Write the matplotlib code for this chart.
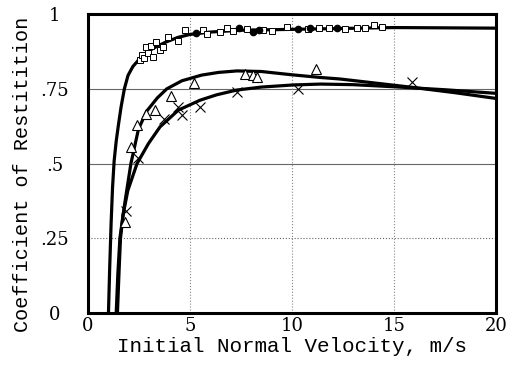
"""Coefficient of restitution vs. initial normal velocity, three fitted curves."""

import matplotlib

matplotlib.use("Agg")

import matplotlib.pyplot as plt

# fitted curves (x = velocity m/s, y = COR)
fit_sq_x = [1.0, 1.06, 1.13, 1.2, 1.28, 1.38, 1.49, 1.62, 1.78, 1.96, 2.2, 2.47, 2.8, 3.2,
            3.8, 4.4, 5.0, 6.0, 7.5, 10.0, 12.5, 15.0, 17.5, 20.0]
fit_sq_y = [0.0, 0.15, 0.3, 0.42, 0.51, 0.575, 0.63, 0.69, 0.75, 0.795, 0.825, 0.846, 0.868,
            0.886, 0.906, 0.922, 0.932, 0.940, 0.946, 0.949, 0.952, 0.955, 0.954, 0.953]

fit_tri_x = [1.44, 1.52, 1.59, 1.72, 1.85, 2.1, 2.47, 2.87, 3.4, 3.86, 4.6, 5.57, 6.4, 7.3,
             8.5, 10.0, 11.4, 12.35, 14.0, 15.9, 18.0, 20.0]
fit_tri_y = [0.0, 0.14, 0.25, 0.33, 0.39, 0.5, 0.615, 0.675, 0.72, 0.75, 0.777, 0.796,
             0.805, 0.81, 0.808, 0.797, 0.788, 0.783, 0.77, 0.755, 0.737, 0.718]

fit_x_x = [1.38, 1.46, 1.56, 1.72, 1.95, 2.4, 2.96, 3.53, 4.43, 5.49, 6.3, 7.29, 8.5,
           10.05, 11.4, 13.0, 15.0, 17.5, 20.0]
fit_x_y = [0.0, 0.13, 0.25, 0.33, 0.41, 0.5, 0.567, 0.623, 0.679, 0.712, 0.73, 0.746,
           0.756, 0.763, 0.766, 0.764, 0.757, 0.747, 0.735]

# measured points
sq_x = [2.55, 2.65, 2.75, 2.86, 2.94, 3.1, 3.19, 3.35, 3.51, 3.68, 3.92, 4.41, 4.74, 5.65,
        5.85, 6.47, 6.8, 7.1, 7.8, 8.6, 9.0, 9.74, 10.8, 11.3, 11.8, 12.6, 13.2, 13.6, 14.0,
        14.4]
sq_y = [0.845, 0.862, 0.852, 0.889, 0.869, 0.894, 0.857, 0.908, 0.880, 0.889, 0.924, 0.909,
        0.946, 0.946, 0.933, 0.939, 0.953, 0.945, 0.950, 0.948, 0.945, 0.958, 0.950, 0.955,
        0.952, 0.949, 0.955, 0.952, 0.963, 0.958]

dot_x = [5.3, 7.4, 8.1, 8.4, 10.3, 10.9, 12.2]
dot_y = [0.938, 0.955, 0.940, 0.947, 0.950, 0.952, 0.953]

tri_x = [1.81, 2.11, 2.39, 2.85, 3.26, 4.07, 5.2, 7.7, 8.1, 8.27, 11.2]
tri_y = [0.305, 0.554, 0.629, 0.665, 0.679, 0.727, 0.768, 0.799, 0.796, 0.788, 0.818]

cross_x = [1.86, 2.45, 3.72, 4.43, 4.63, 5.49, 7.29, 10.3, 15.87]
cross_y = [0.34, 0.52, 0.65, 0.69, 0.662, 0.69, 0.74, 0.751, 0.774]

x_ticks = [0, 5, 10, 15, 20]
x_tick_labels = ["0", "5", "10", "15", "20"]
y_ticks = [0, 0.25, 0.5, 0.75, 1]
y_tick_labels = ["0", ".25", ".5", ".75", "1"]

LABEL_FONT = "Liberation Mono"
TICK_FONT = "DejaVu Serif"

fig = plt.figure(figsize=(5.18, 3.71), dpi=100)
ax = fig.add_axes([0.170, 0.156, 0.7875, 0.806])

# reference lines
for yv, ls in [(0.25, ":"), (0.5, "-"), (0.75, "-")]:
    ax.axhline(yv, color="#666666", lw=0.8, ls=ls, zorder=1)
for xv in x_ticks[1:-1]:
    ax.axvline(xv, color="#888888", lw=0.8, ls=":", zorder=1)

ax.plot(fit_sq_x, fit_sq_y, color="black", lw=2.3, solid_capstyle="butt", zorder=3)
ax.plot(fit_tri_x, fit_tri_y, color="black", lw=2.3, solid_capstyle="butt", zorder=3)
ax.plot(fit_x_x, fit_x_y, color="black", lw=2.3, solid_capstyle="butt", zorder=3)

ax.plot(sq_x, sq_y, ls="none", marker="s", ms=4, mfc="white", mec="black", mew=0.7, zorder=4)
ax.plot(dot_x, dot_y, ls="none", marker="o", ms=4.5, color="black", zorder=4)
ax.plot(tri_x, tri_y, ls="none", marker="^", ms=6.5, mfc="white", mec="black", mew=0.8, zorder=4)
ax.plot(cross_x, cross_y, ls="none", marker="x", ms=6.5, color="black", mew=0.8, zorder=4)

ax.set_xlim(0, 20)
ax.set_ylim(0, 1)
ax.set_xticks(x_ticks)
ax.set_xticklabels(x_tick_labels, fontfamily=TICK_FONT, fontsize=13)
ax.set_yticks(y_ticks)
ax.set_yticklabels(y_tick_labels, fontfamily=TICK_FONT, fontsize=13, ha="center")
ax.tick_params(axis="x", length=0, pad=3)
ax.tick_params(axis="y", length=0, pad=24)

ax.set_xlabel("Initial Normal Velocity, m/s", fontfamily=LABEL_FONT, fontsize=15, labelpad=1)
ax.set_ylabel("Coefficient of Restitition", fontfamily=LABEL_FONT, fontsize=14.5)
ax.yaxis.set_label_coords(-0.137, 0.465)

for spine in ax.spines.values():
    spine.set_linewidth(2.2)
    spine.set_color("black")

fig.savefig("out.png", dpi=100)
